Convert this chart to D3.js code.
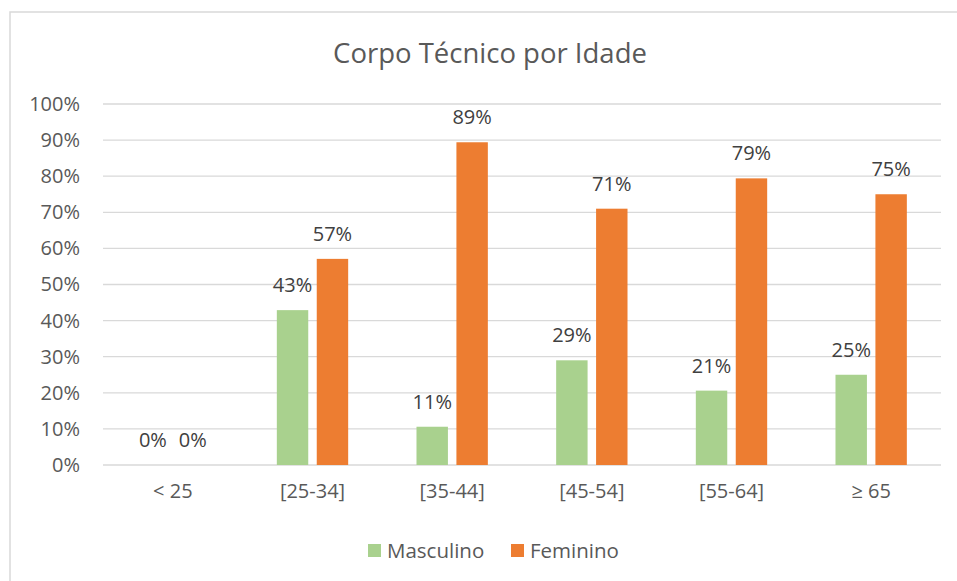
<!DOCTYPE html>
<html>
<head>
<meta charset="utf-8">
<script src="https://cdn.jsdelivr.net/npm/d3@7"></script>
<style>
  body { margin: 0; background: #fff; }
  svg text { font-family: 'Open Sans', sans-serif; fill: #595959; }
</style>
</head>
<body>
<div id="chart"></div>
<script>
const categories = ['< 25', '[25-34]', '[35-44]', '[45-54]', '[55-64]', '\u2265 65'];
const masculino = [0, 42.9, 10.6, 29.0, 20.6, 25.0];
const feminino = [0, 57.1, 89.4, 71.0, 79.4, 75.0];
const yTicks = [0, 10, 20, 30, 40, 50, 60, 70, 80, 90, 100];
const seriesNames = ['Masculino', 'Feminino'];
const colors = ['#A9D18E', '#ED7D31'];

const width = 957, height = 581;
const margin = { top: 104, right: 16, bottom: 116, left: 103 };

const svg = d3.select('#chart').append('svg')
  .attr('width', width)
  .attr('height', height);

// chart border
svg.append('rect')
  .attr('x', 10).attr('y', 12)
  .attr('width', width + 10).attr('height', height + 10)
  .style('fill', 'none')
  .style('stroke', '#D9D9D9')
  .style('stroke-width', 1.5);

svg.append('text')
  .attr('x', 490).attr('y', 63)
  .attr('text-anchor', 'middle')
  .style('font-size', '27.5px')
  .text('Corpo T\u00e9cnico por Idade');

const innerW = width - margin.left - margin.right;
const innerH = height - margin.top - margin.bottom;

const x0 = d3.scaleBand().domain(categories).range([0, innerW]);
const y = d3.scaleLinear().domain([0, 100]).range([innerH, 0]);

const g = svg.append('g')
  .attr('transform', 'translate(' + margin.left + ',' + margin.top + ')');

// gridlines
g.append('g').attr('class', 'grid')
  .selectAll('line').data(yTicks).enter().append('line')
  .attr('x1', 0).attr('x2', innerW)
  .attr('y1', d => y(d)).attr('y2', d => y(d))
  .style('stroke', '#D9D9D9')
  .style('stroke-width', 1.3);

// y axis
const yAxis = g.append('g')
  .call(d3.axisLeft(y).tickValues(yTicks).tickSize(0).tickPadding(23).tickFormat(d => d + '%'));
yAxis.select('.domain').remove();
yAxis.selectAll('text').style('font-size', '20px').style('fill', '#595959');

// x axis
const xAxis = g.append('g')
  .attr('transform', 'translate(0,' + innerH + ')')
  .call(d3.axisBottom(x0).tickSize(0).tickPadding(19));
xAxis.select('.domain').remove();
xAxis.selectAll('text').style('font-size', '20px').style('fill', '#595959');

const barW = x0.bandwidth() * 0.225;
const gap = 8.5;

const data = categories.map((c, i) => ({ cat: c, values: [masculino[i], feminino[i]] }));

const groups = g.selectAll('.cat').data(data).enter().append('g')
  .attr('class', 'cat')
  .attr('transform', d => 'translate(' + (x0(d.cat) + x0.bandwidth() / 2) + ',0)');

groups.selectAll('rect').data(d => d.values).enter().append('rect')
  .attr('x', (d, i) => i === 0 ? -gap / 2 - barW : gap / 2)
  .attr('y', d => y(d))
  .attr('width', barW)
  .attr('height', d => innerH - y(d))
  .style('fill', (d, i) => colors[i]);

groups.selectAll('text.lbl').data(d => d.values).enter().append('text')
  .attr('class', 'lbl')
  .attr('x', (d, i) => i === 0 ? -gap / 2 - barW / 2 : gap / 2 + barW / 2)
  .attr('y', d => y(d) - 18)
  .attr('text-anchor', 'middle')
  .style('font-size', '20px')
  .style('fill', '#404040')
  .text(d => Math.round(d) + '%');

// legend
const legend = svg.append('g').attr('transform', 'translate(368,544)');
const legX = [0, 143];
seriesNames.forEach((name, i) => {
  legend.append('rect')
    .attr('x', legX[i]).attr('y', 0)
    .attr('width', 13).attr('height', 13)
    .style('fill', colors[i]);
  legend.append('text')
    .attr('x', legX[i] + 19).attr('y', 14)
    .style('font-size', '20.5px')
    .text(name);
});
</script>
</body>
</html>
